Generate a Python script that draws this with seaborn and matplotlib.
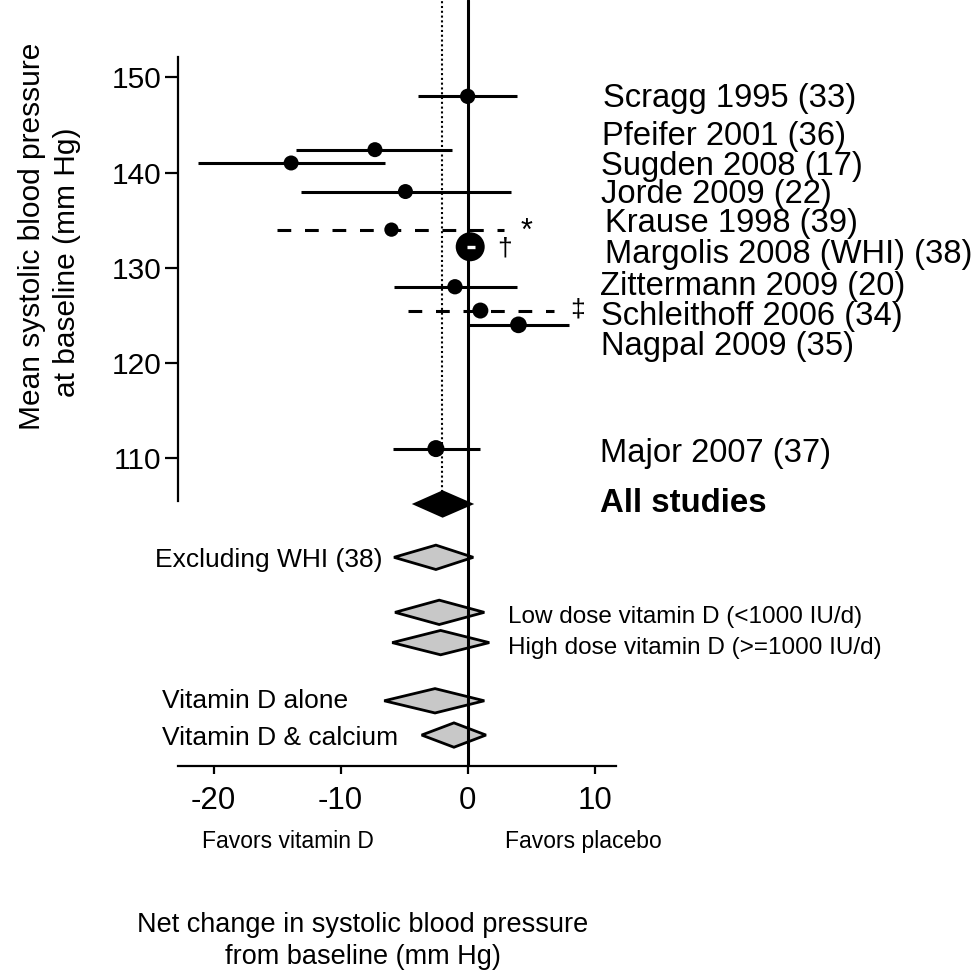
#!/usr/bin/env python3

"""Forest plot: vitamin D trials, net change in systolic blood pressure."""

import pandas as pd
import seaborn as sns
import matplotlib.pyplot as plt

# ---------------------------------------------------------------------------
# DATA

studies = ["Scragg 1995 (33)", "Pfeifer 2001 (36)", "Sugden 2008 (17)",
           "Jorde 2009 (22)", "Krause 1998 (39)", "Margolis 2008 (WHI) (38)",
           "Zittermann 2009 (20)", "Schleithoff 2006 (34)", "Nagpal 2009 (35)",
           "Major 2007 (37)"]
baseline_sbp = [148.0, 142.4, 141.0, 138.0, 134.0, 132.2, 128.0, 125.5, 124.0, 111.0]
net_change = [0.0, -7.3, -13.9, -4.9, -6.0, 0.2, -1.0, 1.0, 4.0, -2.5]
ci_low = [-3.9, -13.5, -21.2, -13.1, -15.0, -0.05, -5.8, -4.7, 0.0, -5.9]
ci_high = [3.9, -1.2, -6.5, 3.4, 2.9, 0.6, 3.9, 6.8, 8.0, 1.0]
footnote = ["", "", "", "", "*", "\u2020", "", "\u2021", "", ""]

pooled = ["All studies", "Excluding WHI (38)", "Low dose vitamin D (<1000 IU/d)",
          "High dose vitamin D (>=1000 IU/d)", "Vitamin D alone", "Vitamin D & calcium"]
pooled_est = [-1.97, -2.50, -2.24, -2.13, -2.57, -1.08]
pooled_low = [-4.13, -5.80, -5.72, -5.94, -6.57, -3.62]
pooled_high = [0.24, 0.44, 1.31, 1.70, 1.31, 1.44]

overall_effect = -2.0

# ---------------------------------------------------------------------------
# LAYOUT / STYLE (kept apart from the data)

dot_px = [15.3, 15, 15, 15, 14.3, 29, 15.3, 16, 16.7, 17]      # marker diameters
ci_dash = [False, False, False, False, True, False, False, True, False, False]
label_x = [10.67, 10.6, 10.5, 10.5, 10.8, 10.8, 10.4, 10.5, 10.5, 10.4]
label_y = [146.85, 142.89, 139.74, 136.83, 133.78, 130.46, 127.13, 123.98, 120.83, 109.62]
mark_xy = [None, None, None, None, (4.65, 132.94), (2.89, 132.03), None, (8.63, 125.66), None, None]

pooled_row = [105.18, 99.58, 93.80, 90.62, 84.51, 80.91]
pooled_fill = ["black", "#c8c8c8", "#c8c8c8", "#c8c8c8", "#c8c8c8", "#c8c8c8"]
pooled_text = [(10.4, 104.37, "left"), (-6.67, 98.59, "right"), (3.2, 92.65, "left"),
               (3.17, 89.42, "left"), (-24.1, 83.72, "left"), (-24.1, 79.86, "left")]
pooled_fs = [23.8, 19, 17.5, 17.5, 19, 19]
half_h = 1.28

W, H = 979, 973
FONT = "Liberation Sans"

sns.set_theme(style="ticks")
plt.rcParams["font.family"] = [FONT, "DejaVu Sans"]
plt.rcParams["axes.unicode_minus"] = False
plt.rcParams["text.color"] = "black"

df = pd.DataFrame({"study": studies, "sbp": baseline_sbp, "change": net_change,
                   "lo": ci_low, "hi": ci_high})

fig = plt.figure(figsize=(W / 100, H / 100), dpi=100)
ax = fig.add_axes([177.7 / W, 207 / H, 1 - 177.7 / W, 766 / H])
ax.set_xlim(-22.83, 40.26)
ax.set_ylim(77.66, 158.12)

# reference lines
ax.axvline(0, color="black", lw=2.2, zorder=3)
ax.vlines(overall_effect, pooled_row[0] + half_h, 158.12, color="black",
          lw=1.5, linestyle=(0, (1, 1.3)), zorder=1)

# confidence intervals
for i, r in df.iterrows():
    if i == 5:
        continue
    ls = (0, (4.5, 4.5)) if ci_dash[i] else "solid"
    ax.hlines(r["sbp"], r["lo"], r["hi"], color="black", lw=2.2,
              linestyle=ls, zorder=2)

# point estimates
sizes = [(d / 1.389) ** 2 for d in dot_px]
sns.scatterplot(data=df, x="change", y="sbp", s=sizes, color="black",
                edgecolor="black", linewidth=0, ax=ax, zorder=4, legend=False)

# WHI interval sits inside its own marker, drawn white
ax.hlines(df.loc[5, "sbp"], df.loc[5, "lo"], df.loc[5, "hi"], color="white",
          lw=2.4, zorder=5)

# footnote marks and study labels
for i in range(len(studies)):
    ax.text(label_x[i], label_y[i], studies[i], fontsize=23.6, ha="left",
            va="baseline", zorder=6)
    if footnote[i]:
        mx, my = mark_xy[i]
        if footnote[i] == "*":
            ax.text(mx, my, footnote[i], fontsize=22, ha="center", va="baseline")
        else:
            ax.text(mx, my, footnote[i], fontsize=19, ha="center", va="center")

# pooled diamonds
for j in range(len(pooled)):
    y = pooled_row[j]
    xs = [pooled_low[j], pooled_est[j], pooled_high[j], pooled_est[j]]
    ys = [y, y + half_h, y, y - half_h]
    ax.fill(xs, ys, facecolor=pooled_fill[j], edgecolor="black", lw=2.0,
            joinstyle="miter", zorder=2)
    tx, ty, tha = pooled_text[j]
    ax.text(tx, ty, pooled[j], fontsize=pooled_fs[j], ha=tha, va="baseline",
            fontweight="bold" if j == 0 else "normal")

# axes styling
sns.despine(ax=ax)
ax.spines["left"].set_bounds(105.5, 152.16)
ax.spines["bottom"].set_bounds(-22.83, 11.7)
for s in ("left", "bottom"):
    ax.spines[s].set_linewidth(1.6)
    ax.spines[s].set_color("black")
ax.set_yticks([110, 120, 130, 140, 150])
ax.set_xticks([-20, -10, 0, 10])
ax.tick_params(axis="y", length=9.5, width=1.6, pad=2.5, labelsize=21.5,
               colors="black")
ax.tick_params(axis="x", length=5.5, width=1.6, pad=9, labelsize=22.5,
               colors="black")
ax.set_xlabel("")
ax.set_ylabel("")
ax.grid(False)

ax.text(-20.94, 69.0, "Favors vitamin D", fontsize=16.5, ha="left", va="baseline")
ax.text(2.94, 69.0, "Favors placebo", fontsize=16.5, ha="left", va="baseline")

fig.text(363 / W, 1 - 931.7 / H, "Net change in systolic blood pressure",
         fontsize=19.5, ha="center", va="baseline")
fig.text(363 / W, 1 - 964 / H, "from baseline (mm Hg)",
         fontsize=19.5, ha="center", va="baseline")
fig.text(32 / W, 1 - 236.5 / H, "Mean systolic blood pressure",
         fontsize=21.5, rotation=90, ha="center", va="center")
fig.text(67 / W, 1 - 262 / H, "at baseline (mm Hg)",
         fontsize=21.5, rotation=90, ha="center", va="center")

fig.savefig("out.png", dpi=100, facecolor="white")
